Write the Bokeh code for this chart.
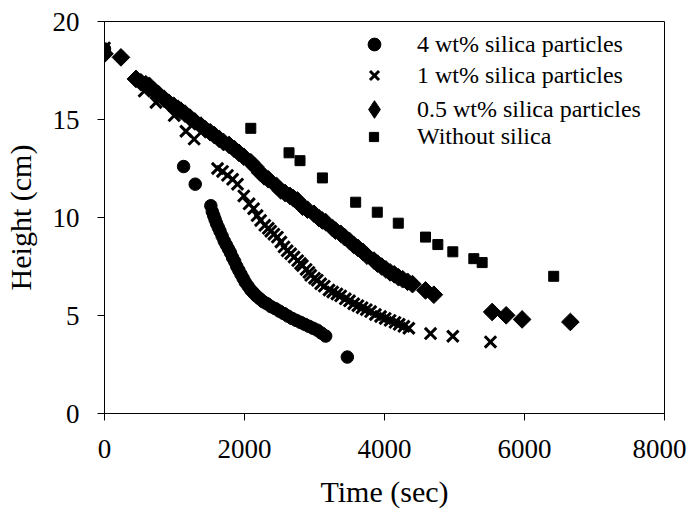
import math
from bokeh.plotting import figure
from bokeh.models import Range1d, FixedTicker, Legend, LegendItem
from bokeh.embed import file_html
from bokeh.resources import INLINE

# ---- data ----
t_4wt = [0, 1130, 1296, 1519, 1540, 1560, 1580, 1600, 1625, 1650, 1680, 1710, 1740, 1770,
         1800, 1830, 1860, 1890, 1920, 1950, 1980, 2010, 2050, 2090, 2130, 2170, 2220,
         2270, 2320, 2380, 2440, 2500, 2560, 2620, 2680, 2740, 2800, 2860, 2920, 2980,
         3040, 3100, 3160, 3469]
h_4wt = [18.6, 12.6, 11.7, 10.6, 10.3, 10.1, 9.9, 9.7, 9.5, 9.3, 9.05, 8.8, 8.6, 8.4,
         8.2, 7.95, 7.75, 7.5, 7.3, 7.1, 6.9, 6.7, 6.5, 6.3, 6.15, 6.0, 5.85,
         5.7, 5.6, 5.45, 5.35, 5.22, 5.1, 4.97, 4.85, 4.75, 4.65, 4.55, 4.45, 4.35,
         4.25, 4.1, 3.95, 2.88]

t_1wt = [0, 568, 735, 996, 1163, 1281, 1615, 1686, 1757, 1830, 1900, 1990, 2066, 2130,
         2180, 2230, 2290, 2340, 2375, 2420, 2470, 2520, 2565, 2610, 2660, 2708, 2760,
         2800, 2827, 2880, 2920, 2946, 3000, 3040, 3088, 3140, 3207, 3260, 3320, 3374,
         3440, 3500, 3560, 3620, 3680, 3740, 3802, 3870, 3944, 4010, 4080, 4150, 4210,
         4277, 4348, 4658, 4976, 5514]
h_1wt = [18.65, 16.45, 15.87, 15.2, 14.4, 14.0, 12.5, 12.35, 12.15, 11.95, 11.7, 11.1, 10.7, 10.45,
         10.1, 9.85, 9.6, 9.45, 9.3, 9.15, 9.0, 8.75, 8.5, 8.3, 8.15, 7.98, 7.8,
         7.65, 7.55, 7.35, 7.2, 7.05, 6.9, 6.8, 6.62, 6.5, 6.3, 6.2, 6.1, 6.0,
         5.85, 5.75, 5.6, 5.5, 5.4, 5.3, 5.2, 5.05, 4.95, 4.85, 4.75, 4.65, 4.55,
         4.45, 4.35, 4.08, 3.94, 3.65]

t_05wt = [0, 235, 449, 520, 590, 640, 700, 770, 853, 920, 990, 1050, 1091, 1150, 1220,
          1290, 1377, 1440, 1510, 1570, 1638, 1700, 1780, 1852, 1920, 1990, 2090, 2150,
          2220, 2280, 2340, 2460, 2518, 2580, 2650, 2700, 2756, 2830, 2900, 2993, 3060,
          3110, 3160, 3260, 3300, 3374, 3430, 3500, 3560, 3620, 3690, 3750, 3850, 3900,
          3960, 4020, 4080, 4140, 4200, 4260, 4330, 4400, 4586, 4705, 5538, 5738, 5966, 6655]
h_05wt = [18.35, 18.17, 17.07, 16.9, 16.8, 16.72, 16.5, 16.3, 16.05, 15.85, 15.7, 15.55, 15.45, 15.3, 15.1,
          14.9, 14.69, 14.5, 14.35, 14.2, 14.01, 13.85, 13.7, 13.5, 13.3, 13.1, 12.82, 12.6,
          12.3, 12.1, 11.95, 11.6, 11.38, 11.25, 11.1, 10.98, 10.87, 10.55, 10.4, 10.19, 9.98,
          9.85, 9.76, 9.45, 9.33, 9.17, 9.0, 8.8, 8.6, 8.45, 8.25, 8.05, 7.8, 7.65,
          7.5, 7.35, 7.2, 7.1, 6.95, 6.85, 6.72, 6.6, 6.28, 6.06, 5.18, 5.01, 4.8, 4.67]

t_none = [2090, 2636, 2793, 3113, 3588, 3897, 4197, 4586, 4762, 4976, 5276, 5395, 6417]
h_none = [14.55, 13.3, 12.9, 12.02, 10.78, 10.27, 9.71, 9.0, 8.62, 8.25, 7.9, 7.7, 7.0]

x_ticks = [0, 2000, 4000, 6000, 8000]
y_ticks = [0, 5, 10, 15, 20]
labels = ["4 wt% silica particles", "1 wt% silica particles",
          "0.5 wt% silica particles", "Without silica"]

FONT = "Liberation Serif"

p = figure(width=686, height=514, output_backend="svg", toolbar_location=None,
           x_range=Range1d(0, 8000), y_range=Range1d(0, 20),
           min_border_left=104, min_border_right=22, min_border_top=21, min_border_bottom=101)
p.background_fill_color = "white"
p.border_fill_color = "white"
p.outline_line_color = "black"
p.outline_line_width = 1
p.xgrid.visible = False
p.ygrid.visible = False

for ax in (p.xaxis[0], p.yaxis[0]):
    ax.axis_line_color = "black"
    ax.axis_line_width = 1
    ax.major_tick_line_color = "black"
    ax.major_tick_out = 7
    ax.major_tick_in = 0
    ax.minor_tick_line_color = None
    ax.major_label_text_font = FONT
    ax.major_label_text_font_size = "27px"
    ax.major_label_text_color = "black"
    ax.axis_label_text_font = FONT
    ax.axis_label_text_font_size = "30px"
    ax.axis_label_text_font_style = "normal"
    ax.axis_label_text_color = "black"

p.xaxis.ticker = FixedTicker(ticks=x_ticks)
p.yaxis.ticker = FixedTicker(ticks=y_ticks)
p.xaxis.axis_label = "Time (sec)"
p.yaxis.axis_label = "Height (cm)"
p.xaxis.major_label_standoff = 19
p.yaxis.major_label_standoff = 18
p.xaxis.axis_label_standoff = 14
p.yaxis.axis_label_standoff = 13

r_none = p.scatter(t_none, h_none, marker="square", size=10, color="black")
r_05 = p.scatter(t_05wt, h_05wt, marker="square", size=12.5, angle=math.pi / 4, color="black")
r_1 = p.scatter(t_1wt, h_1wt, marker="x", size=16, line_width=3, color="black")
r_4 = p.scatter(t_4wt, h_4wt, marker="circle", size=12.5, color="black")
# legend key glyph (upright diamond) for the 0.5 wt% series; tiny, hidden under the first point
r_05_key = p.scatter(t_05wt[:1], h_05wt[:1], marker="diamond", size=1, color="black")


def make_legend(label, rend, box, loc_x, loc_y, standoff):
    lg = Legend(items=[LegendItem(label=label, renderers=[rend])], location=(loc_x, loc_y))
    lg.background_fill_alpha = 0
    lg.border_line_color = None
    lg.label_text_font = FONT
    lg.label_text_font_size = "24px"
    lg.label_text_color = "black"
    lg.glyph_width = box
    lg.glyph_height = box
    lg.label_height = box
    lg.label_standoff = standoff
    lg.spacing = 0
    lg.padding = 0
    lg.margin = 0
    p.add_layout(lg)


make_legend(labels[0], r_4, 32, 254, 353, 27)
make_legend(labels[1], r_1, 32, 254, 322, 27)
make_legend(labels[2], r_05_key, 44, 248, 282, 21)
make_legend(labels[3], r_none, 23, 258, 263, 32)

open("out.html", "w").write(file_html(p, INLINE))
